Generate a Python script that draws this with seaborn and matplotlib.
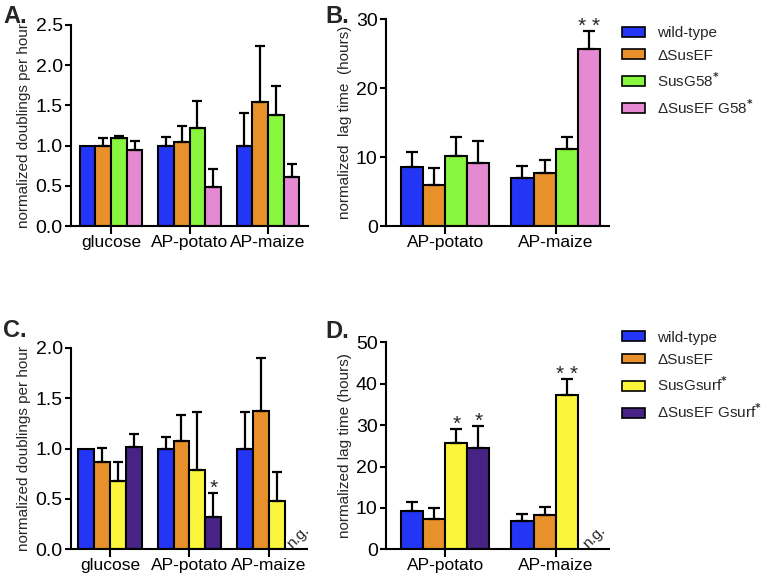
import numpy as np
import pandas as pd
import matplotlib
matplotlib.use('Agg')
import matplotlib.pyplot as plt
import seaborn as sns
from matplotlib.patches import Patch
from matplotlib.colors import to_rgba

# ---------------- data ----------------
# Panel A: normalized doublings per hour
a_categories = ['glucose', 'AP-potato', 'AP-maize']
a_strains = ['wild-type', 'ΔSusEF', 'SusG58*', 'ΔSusEF G58*']
a_wt = [1.00, 1.00, 1.00]
a_wt_sd = [0.00, 0.11, 0.40]
a_susef = [0.99, 1.04, 1.54]
a_susef_sd = [0.11, 0.21, 0.70]
a_g58 = [1.10, 1.22, 1.385]
a_g58_sd = [0.02, 0.34, 0.355]
a_susef_g58 = [0.94, 0.48, 0.61]
a_susef_g58_sd = [0.12, 0.23, 0.165]

# Panel B: normalized lag time (hours)
b_categories = ['AP-potato', 'AP-maize']
b_wt = [8.6, 6.9]
b_wt_sd = [2.1, 1.8]
b_susef = [5.95, 7.65]
b_susef_sd = [2.45, 1.9]
b_g58 = [10.2, 11.1]
b_g58_sd = [2.7, 1.85]
b_susef_g58 = [9.1, 25.7]
b_susef_g58_sd = [3.25, 2.5]

# Panel C: normalized doublings per hour
c_categories = ['glucose', 'AP-potato', 'AP-maize']
c_strains = ['wild-type', 'ΔSusEF', 'SusGsurf*', 'ΔSusEF Gsurf*']
c_wt = [1.00, 1.00, 1.00]
c_wt_sd = [0.00, 0.12, 0.36]
c_susef = [0.87, 1.08, 1.37]
c_susef_sd = [0.14, 0.25, 0.53]
c_gsurf = [0.68, 0.79, 0.48]
c_gsurf_sd = [0.19, 0.575, 0.29]
c_susef_gsurf = [1.02, 0.32, np.nan]   # n.g. on AP-maize
c_susef_gsurf_sd = [0.13, 0.24, np.nan]

# Panel D: normalized lag time (hours)
d_categories = ['AP-potato', 'AP-maize']
d_wt = [9.25, 6.9]
d_wt_sd = [2.15, 1.7]
d_susef = [7.35, 8.4]
d_susef_sd = [2.55, 1.8]
d_gsurf = [25.6, 37.2]
d_gsurf_sd = [3.5, 3.85]
d_susef_gsurf = [24.4, np.nan]          # n.g. on AP-maize
d_susef_gsurf_sd = [5.3, np.nan]

colors_ab = ['#2436f5', '#e8912a', '#88f53e', '#e489d2']
colors_cd = ['#2436f5', '#e8912a', '#fbf53c', '#472385']
legend_ab = ['wild-type', 'ΔSusEF', r'SusG58$^{\mathbf{*}}$', r'ΔSusEF G58$^{\mathbf{*}}$']
legend_cd = ['wild-type', 'ΔSusEF', r'SusGsurf$^{\mathbf{*}}$', r'ΔSusEF Gsurf$^{\mathbf{*}}$']

# ---------------- style ----------------
sns.set_style('ticks')
plt.rcParams['font.family'] = ['Liberation Sans', 'DejaVu Sans']
plt.rcParams['axes.linewidth'] = 1.5
plt.rcParams['xtick.major.width'] = 1.5
plt.rcParams['ytick.major.width'] = 1.5
plt.rcParams['xtick.color'] = 'black'
plt.rcParams['ytick.color'] = 'black'
plt.rcParams['axes.edgecolor'] = 'black'

fig = plt.figure(figsize=(7.71, 5.80), dpi=100)


def make_panel(rect, cats, strains, vals, sds, colors, ylim, yticks, fmt, ylabel,
               xlim, capsize):
    ax = fig.add_axes(rect)
    rows = []
    for s, v, e in zip(strains, vals, sds):
        for c, vv, ee in zip(cats, v, e):
            rows.append({'cat': c, 'strain': s, 'value': vv, 'sd': ee})
    df = pd.DataFrame(rows)
    sns.barplot(data=df, x='cat', y='value', hue='strain', order=cats,
                hue_order=strains, palette=colors, errorbar=None,
                edgecolor='black', linewidth=1.5, width=0.8, gap=0,
                saturation=1, legend=False, ax=ax)
    info = {}
    rgba = [to_rgba(c) for c in colors]
    for p in ax.patches:
        h = p.get_height()
        if not np.isfinite(h) or h == 0:
            continue
        fc = p.get_facecolor()
        si = int(np.argmin([np.sum(np.abs(np.array(fc) - np.array(c))) for c in rgba]))
        xc = p.get_x() + p.get_width() / 2
        ci = int(round(xc))
        e = df[(df.strain == strains[si]) & (df.cat == cats[ci])].sd.iloc[0]
        info[(si, ci)] = (xc, h + e, p.get_width())
        if e > 0:
            ax.errorbar(xc, h, yerr=[[0], [e]], fmt='none', ecolor='black',
                        elinewidth=1.6, capsize=capsize, capthick=1.6, zorder=3)
    ax.set_ylim(*ylim)
    ax.set_yticks(yticks)
    ax.set_yticklabels([fmt.format(t) for t in yticks])
    ax.set_xlim(*xlim)
    ax.set_xlabel('')
    ax.set_ylabel(ylabel, fontsize=11, labelpad=3)
    ax.tick_params(axis='y', labelsize=14, length=4.5, pad=1.5, direction='out')
    ax.tick_params(axis='x', labelsize=12.5, length=5.5, pad=1, direction='out')
    sns.despine(ax=ax)
    return ax, info


def star(ax, x, y, text):
    ax.annotate(text, xy=(x, y), xytext=(0, -0.5), textcoords='offset points',
                ha='center', va='baseline', fontsize=15)


def ng(ax, x):
    ax.annotate('n.g.', xy=(x, 0), xytext=(3.8, 9), textcoords='offset points',
                ha='center', va='center', fontsize=11, rotation=45)


# Panel A
axA, infoA = make_panel([0.0921, 0.6103, 0.3074, 0.3466], a_categories, a_strains,
                        [a_wt, a_susef, a_g58, a_susef_g58],
                        [a_wt_sd, a_susef_sd, a_g58_sd, a_susef_g58_sd],
                        colors_ab, (0, 2.5), [0, 0.5, 1.0, 1.5, 2.0, 2.5], '{:.1f}',
                        'normalized doublings per hour', (-0.51, 2.51), 3.8)

# Panel B
axB, infoB = make_panel([0.5006, 0.6103, 0.2892, 0.3569], b_categories, a_strains,
                        [b_wt, b_susef, b_g58, b_susef_g58],
                        [b_wt_sd, b_susef_sd, b_g58_sd, b_susef_g58_sd],
                        colors_ab, (0, 30), [0, 10, 20, 30], '{:.0f}',
                        'normalized  lag time  (hours)', (-0.54, 1.485), 4.3)
x, y, w = infoB[(3, 1)]
star(axB, x, y, '* *')

# Panel C
axC, infoC = make_panel([0.0921, 0.0529, 0.3061, 0.3471], c_categories, c_strains,
                        [c_wt, c_susef, c_gsurf, c_susef_gsurf],
                        [c_wt_sd, c_susef_sd, c_gsurf_sd, c_susef_gsurf_sd],
                        colors_cd, (0, 2.0), [0, 0.5, 1.0, 1.5, 2.0], '{:.1f}',
                        'normalized doublings per hour', (-0.49, 2.48), 3.8)
x, y, w = infoC[(3, 1)]
star(axC, x, y, '*')
x, y, w = infoC[(2, 2)]
ng(axC, x + w)

# Panel D
axD, infoD = make_panel([0.5006, 0.0529, 0.2892, 0.3569], d_categories, c_strains,
                        [d_wt, d_susef, d_gsurf, d_susef_gsurf],
                        [d_wt_sd, d_susef_sd, d_gsurf_sd, d_susef_gsurf_sd],
                        colors_cd, (0, 50), [0, 10, 20, 30, 40, 50], '{:.0f}',
                        'normalized lag time (hours)', (-0.54, 1.485), 4.3)
for key in [(2, 0), (3, 0)]:
    x, y, w = infoD[key]
    star(axD, x, y, '*')
x, y, w = infoD[(2, 1)]
star(axD, x, y, '* *')
ng(axD, x + w)

# Legends
for labels, cols, top in [(legend_ab, colors_ab, 0.955), (legend_cd, colors_cd, 0.430)]:
    handles = [Patch(facecolor=c, edgecolor='black', linewidth=1.2) for c in cols]
    fig.legend(handles, labels, loc='upper left', bbox_to_anchor=(0.8067, top),
               frameon=False, fontsize=11, handlelength=1.5, handleheight=0.6,
               handletextpad=0.8, labelspacing=0.55, borderpad=0, borderaxespad=0)

# Panel letters
for letter, xx, yy in [('A.', 0.004, 1 - 23 / 580), ('B.', 325 / 771, 1 - 23 / 580),
                       ('C.', 0.004, 1 - 337 / 580), ('D.', 325 / 771, 1 - 337.5 / 580)]:
    fig.text(xx, yy, letter, fontsize=17, fontweight='bold', va='baseline', ha='left')

fig.savefig('out.png', dpi=100)
